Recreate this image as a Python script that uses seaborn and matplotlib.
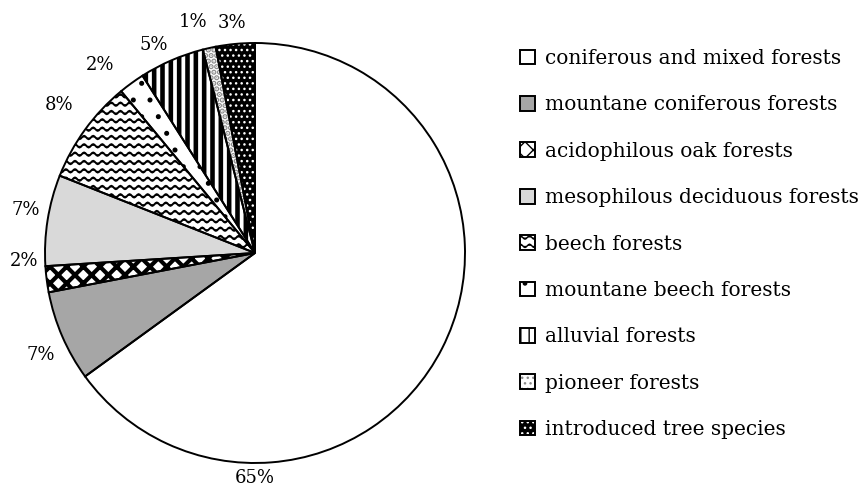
import warnings
warnings.filterwarnings("ignore")
import numpy as np
import matplotlib
matplotlib.use("Agg")
import matplotlib.pyplot as plt
import matplotlib.hatch as mhatch
from matplotlib.path import Path
import seaborn as sns
from matplotlib.legend_handler import HandlerTuple
from matplotlib.patches import Patch

categories = ["coniferous and mixed forests", "mountane coniferous forests",
              "acidophilous oak forests", "mesophilous deciduous forests",
              "beech forests", "mountane beech forests", "alluvial forests",
              "pioneer forests", "introduced tree species"]
values = [65, 7, 2, 7, 8, 2, 5, 1, 3]
pct_labels = ["65%", "7%", "2%", "7%", "8%", "2%", "5%", "1%", "3%"]

facecolors = ["white", "#a6a6a6", "white", "#d9d9d9", "white", "white", "white", "white", "black"]
hatches = [None, None, "xx", None, "~~", ".", "||", "...", "..."]
hatchcolors = ["black", "black", "black", "black", "black", "black", "black", "#8a8a8a", "white"]
hatch_lw = [1, 1, 3.0, 1, 1.4, 1.2, 3.3, 2.8, 1.0]

# label placement (angle in degrees, radius as fraction of pie radius)
label_angles = [270, 205.4, 182, 169.4, 143, 129.5, 116, 105, 95.7]
label_radii = [1.07, 1.13, 1.10, 1.11, 1.17, 1.16, 1.10, 1.14, 1.10]


class WavyHatch(mhatch.HatchPatternBase):
    """Rows of wavy lines, used for the beech-forest fill."""
    waves = 11
    pts_per_wave = 8

    def __init__(self, hatch, density):
        self.num_lines = int(hatch.count('~') * density)
        self.npts = self.waves * self.pts_per_wave + 1
        self.num_vertices = self.num_lines * self.npts

    def set_vertices_and_codes(self, vertices, codes):
        steps, stepsize = np.linspace(0.0, 1.0, self.num_lines, False, retstep=True)
        steps += stepsize / 2.0
        xs = np.linspace(0.0, 1.0, self.npts)
        wave = 0.2 * stepsize * np.sin(2 * np.pi * self.waves * xs)
        n = self.npts
        for i, s in enumerate(steps):
            vertices[i * n:(i + 1) * n, 0] = xs
            vertices[i * n:(i + 1) * n, 1] = s + wave
            codes[i * n] = Path.MOVETO
            codes[i * n + 1:(i + 1) * n] = Path.LINETO


mhatch._hatch_types.append(WavyHatch)

sns.set_theme(style="white")
plt.rcParams['font.family'] = ['DejaVu Serif']
plt.rcParams['text.color'] = 'black'

fig = plt.figure(figsize=(8.61, 4.97), dpi=100)
W, H = 861, 497
cx, cy, R = 255, 244, 210
lim = 1.2
side = 2 * lim * R
ax = fig.add_axes([(cx - side / 2) / W, (cy - side / 2) / H, side / W, side / H])

wedges, texts = ax.pie(values, startangle=90, counterclock=False,
                       colors=facecolors, labels=pct_labels, labeldistance=1.14,
                       wedgeprops=dict(linewidth=0),
                       textprops=dict(fontsize=13, color="black"))
for w, h, hc, hl in zip(wedges, hatches, hatchcolors, hatch_lw):
    w.set_edgecolor(hc)
    if h:
        w.set_hatch(h)
        if hasattr(w, "set_hatch_linewidth"):
            w.set_hatch_linewidth(hl)

outlines, _ = ax.pie(values, startangle=90, counterclock=False,
                     colors=["none"] * len(values),
                     wedgeprops=dict(linewidth=1.4, edgecolor="black"))
for t, ang, rad in zip(texts, label_angles, label_radii):
    a = np.deg2rad(ang)
    t.set_position((rad * np.cos(a), rad * np.sin(a)))
    t.set_ha("center")
    t.set_va("center")

ax.set_xlim(-lim, lim)
ax.set_ylim(-lim, lim)
ax.set_aspect("equal")
ax.axis("off")

handles = []
for fc, h, hc, hl in zip(facecolors, hatches, hatchcolors, hatch_lw):
    p = Patch(facecolor=fc, edgecolor=hc, hatch=h, linewidth=0)
    if h and hasattr(p, "set_hatch_linewidth"):
        p.set_hatch_linewidth(hl)
    o = Patch(facecolor="none", edgecolor="black", linewidth=1.4)
    handles.append((p, o))

fig.legend(handles, categories, handler_map={tuple: HandlerTuple(ndivide=1)},
           loc="upper left", bbox_to_anchor=(520 / W, 1 - 49 / H),
           frameon=False, fontsize=14.5, handlelength=0.75, handleheight=0.75,
           handletextpad=0.5, labelspacing=1.36, borderpad=0, borderaxespad=0)

fig.savefig("out.png", dpi=100)
